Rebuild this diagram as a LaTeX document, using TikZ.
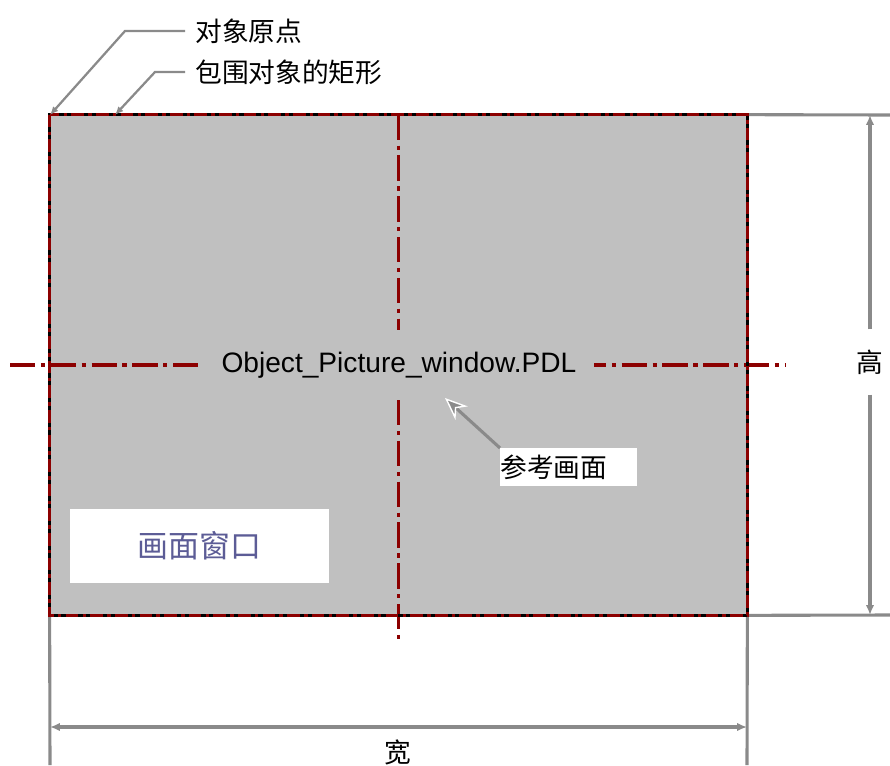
\documentclass[tikz,border=0pt]{standalone}
\usepackage{fontspec}
\setmainfont{Liberation Sans}
\newfontfamily\cjk{Noto Sans CJK SC}
\usepackage{tikz}
\usetikzlibrary{arrows.meta,positioning}
\usepackage{xcolor}
\definecolor{cpanel}{RGB}{192,192,192}
\definecolor{cdim}{RGB}{138,138,138}
\definecolor{caxis}{RGB}{140,0,0}
\definecolor{cwin}{RGB}{92,92,150}
\tikzset{
  centre/.style={draw=caxis, line width=2.6pt,
    dash pattern=on 18pt off 4pt on 3pt off 4pt},
  border/.style={draw=caxis, line width=2.6pt,
    dash pattern=on 9pt off 3pt on 2.5pt off 3pt},
  dimline/.style={draw=cdim, line width=2.2pt},
  dimtip/.style={dimline, -{Latex[length=7pt,width=6pt]}},
  dimarr/.style={dimline, {Latex[length=7pt,width=6pt]}-{Latex[length=7pt,width=6pt]}},
  leader/.style={draw=cdim, line width=1.6pt, -{Latex[length=6pt,width=5pt]}},
  pointer/.style={draw=cdim, line width=2.2pt,
    -{Stealth[length=16pt,width=13pt,color=white,fill=cdim,line width=1pt]}},
  lbl/.style={font=\cjk\fontsize{19}{22}\selectfont, inner sep=0pt}
}
\begin{document}
\begin{tikzpicture}[x=0.025cm, y=-0.025cm]
  \useasboundingbox (0,0) rectangle (890,765);

  % picture window
  \node[fill=cpanel, inner sep=0pt, minimum width=17.425cm,
        minimum height=12.5cm] (win) at (398.5,365) {};

  % dimension lines
  \coordinate (htop) at (890,115);
  \coordinate (hbot) at (890,615);
  \coordinate (wl)   at (50,765);
  \coordinate (wr)   at (747,765);
  \draw[dimline] (win.north east) -- (htop);
  \draw[dimline] (win.south east) -- (hbot);
  \draw[dimline] (win.south west) -- (wl);
  \draw[dimline] (win.south east) -- (wr);

  \node[lbl, fill=white, inner ysep=0.5cm] (hlbl) at (870,362) {高};
  \coordinate (hdimtop) at (870,115);
  \coordinate (hdimbot) at (870,615);
  \draw[dimtip] (hlbl.north) -- (hdimtop);
  \draw[dimtip] (hlbl.south) -- (hdimbot);

  \coordinate (wdl) at (50,727);
  \coordinate (wdr) at (747,727);
  \draw[dimarr] (wdl) -- (wdr);
  \node[lbl] (wlbl) at (398,752) {宽};

  % centre lines
  \coordinate (vbot)   at (398.5,640);
  \coordinate (hleft)  at (10,365);
  \coordinate (hright) at (785,365);
  \draw[centre] (win.north) -- (vbot);
  \draw[centre] (hleft) -- (hright);
  \node[fill=cpanel, inner xsep=0.45cm, inner ysep=0.55cm,
        font=\fontsize{20}{24}\selectfont] (ref) at (399,365)
        {Object\_Picture\_window.PDL};

  % bounding rectangle
  \draw[black, line width=2pt] (win.north west) rectangle (win.south east);
  \draw[border] (win.north west) rectangle (win.south east);

  % reference picture label
  \node[lbl, fill=white, text width=3.425cm, minimum height=0.95cm,
        align=left, anchor=north west] (reflbl) at (500,448) {参考画面};
  \coordinate (reftip) at (445,398);
  \draw[pointer] (reflbl.north west) -- (reftip);

  \node[fill=white, minimum width=6.475cm, minimum height=1.85cm, text=cwin,
        font=\cjk\fontsize{22}{26}\selectfont] (winlbl) at (199.5,546) {画面窗口};

  % callouts
  \node[lbl, anchor=west, inner xsep=0.25cm] (orglbl) at (185,31) {对象原点};
  \node[lbl, anchor=west, inner xsep=0.25cm] (bndlbl) at (185,72) {包围对象的矩形};
  \coordinate (orgbend) at (125,31);
  \coordinate (bndbend) at (155,72);
  \coordinate (org)     at (50,115);
  \coordinate (bndpt)   at (115,115);
  \draw[leader] (orglbl.west) -- (orgbend) -- (org);
  \draw[leader] (bndlbl.west) -- (bndbend) -- (bndpt);
\end{tikzpicture}
\end{document}
